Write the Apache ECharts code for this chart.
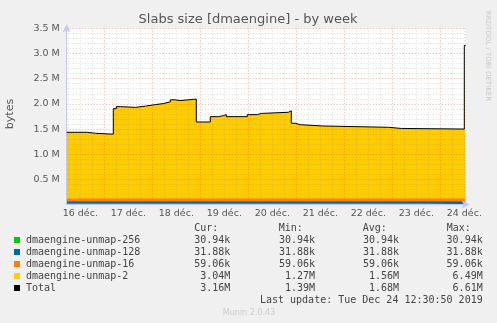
<!DOCTYPE html>
<html><head><meta charset="utf-8">
<script src="https://cdn.jsdelivr.net/npm/echarts@6/dist/echarts.min.js"></script>
<style>html,body{margin:0;padding:0;background:#f0f0f0}#c{width:497px;height:323px}</style>
</head><body><div id="c"></div>
<script>
// ---- data ----
const dayLabels = ['16 déc.', '17 déc.', '18 déc.', '19 déc.', '20 déc.', '21 déc.', '22 déc.', '23 déc.', '24 déc.'];
// hours since 16 déc. 00:00 (value holds from this hour until the next one)
const hours = [5.2, 15.5, 19.5, 28.5, 30, 32, 39.5, 44.5, 49.5, 53.5, 57, 59.5, 62, 70, 77, 81, 83.5, 85, 95.5, 100.5, 102.5, 116, 117.5, 119.5, 122, 133, 166, 172.5, 204, 204.7];
// values in M bytes
const unmap2 = [1.314, 1.294, 1.276, 1.783, 1.823, 1.808, 1.833, 1.863, 1.883, 1.918, 1.958, 1.943, 1.973, 1.518, 1.624, 1.644, 1.664, 1.624, 1.664, 1.688, 1.711, 1.740, 1.493, 1.465, 1.439, 1.413, 1.390, 1.378, 3.038, 3.038];
const total = [1.436, 1.416, 1.398, 1.905, 1.945, 1.930, 1.955, 1.985, 2.005, 2.040, 2.080, 2.065, 2.095, 1.640, 1.746, 1.766, 1.786, 1.746, 1.786, 1.810, 1.833, 1.862, 1.615, 1.587, 1.561, 1.535, 1.512, 1.500, 3.160, 3.160];
const unmap256 = 0.03094;
const unmap128 = 0.03188;
const unmap16 = 0.05906;
const seriesNames = ['dmaengine-unmap-256', 'dmaengine-unmap-128', 'dmaengine-unmap-16', 'dmaengine-unmap-2', 'Total'];
const seriesColors = ['#00cc00', '#0066b3', '#ff8000', '#ffcc00', '#000000'];
const curVals = ['30.94k', '31.88k', '59.06k', '3.04M', '3.16M'];
const minVals = ['30.94k', '31.88k', '59.06k', '1.27M', '1.39M'];
const avgVals = ['30.94k', '31.88k', '59.06k', '1.56M', '1.68M'];
const maxVals = ['30.94k', '31.88k', '59.06k', '6.49M', '6.61M'];
const yMin = 0, yMax = 3.5, yStep = 0.1;
const xMin = 5.2, xMax = 204.7, xGridMin = 6, xStep = 6;

// ---- layout ----
const plotL = 66.7, plotR = 465.7, plotT = 28.3, plotB = 204.6;
const W = 497, H = 323;
const major = 'rgba(230,70,70,0.45)';
const minor = 'rgba(140,140,140,0.32)';
const axisCol = '#c4c8ec';
const FONT = 'DejaVu Sans';
const MONO = 'DejaVu Sans Mono';

const chart = echarts.init(document.getElementById('c'), null, {renderer: 'canvas'});

// stacked tops (areas drawn from the top layer down so lower layers cover upper ones)
const layers = [
  hours.map(() => unmap256),
  hours.map(() => unmap128),
  hours.map(() => unmap16),
  unmap2
];
const stackTops = [];
let running = hours.map(() => 0);
layers.forEach(l => { running = running.map((r, i) => r + l[i]); stackTops.push(running); });

function areaSeries(k) {
  return {
    name: seriesNames[k], type: 'line', step: 'end', symbol: 'none', silent: true,
    data: hours.map((h, i) => [h, stackTops[k][i]]),
    lineStyle: {width: 0}, areaStyle: {color: seriesColors[k], opacity: 1, origin: 'start'},
    xAxisIndex: 0, yAxisIndex: 0, z: 2
  };
}

const gridPxPerH = (plotR - plotL) / (xMax - xMin);
const grid1Left = plotL + (xGridMin - xMin) * gridPxPerH;

const graphics = [];
graphics.push({type: 'text', x: 248, y: 19.5, style: {text: 'Slabs size [dmaengine] - by week', font: '13px ' + FONT, fill: '#555', align: 'center', verticalAlign: 'middle'}});
graphics.push({type: 'text', x: 10, y: 114, rotation: Math.PI / 2, style: {text: 'bytes', font: '11px ' + FONT, fill: '#555', align: 'center', verticalAlign: 'middle'}});
graphics.push({type: 'text', x: 487.5, y: 56, rotation: -Math.PI / 2, style: {text: 'RRDTOOL / TOBI OETIKER', font: '7px ' + FONT, fill: '#c8c8c8', align: 'center', verticalAlign: 'middle'}});
const headers = ['Cur:', 'Min:', 'Avg:', 'Max:'];
const headX = [194.3, 278.7, 362.7, 446.7];
const valRight = [230.3, 315, 399, 482.7];
headers.forEach((t, j) => graphics.push({type: 'text', x: headX[j], y: 228, style: {text: t, font: '10px ' + MONO, fill: '#444', align: 'left', verticalAlign: 'middle'}}));
const rowY = [240, 252, 264, 276, 288];
seriesNames.forEach((n, i) => {
  graphics.push({type: 'rect', shape: {x: 14, y: rowY[i] - 3, width: 6, height: 6}, style: {fill: seriesColors[i]}});
  graphics.push({type: 'text', x: 26, y: rowY[i], style: {text: n, font: '10px ' + MONO, fill: '#444', align: 'left', verticalAlign: 'middle'}});
  [curVals, minVals, avgVals, maxVals].forEach((arr, j) => {
    graphics.push({type: 'text', x: valRight[j], y: rowY[i], style: {text: arr[i], font: '10px ' + MONO, fill: '#444', align: 'right', verticalAlign: 'middle'}});
  });
});
graphics.push({type: 'text', x: 482.7, y: 300, style: {text: 'Last update: Tue Dec 24 12:30:50 2019', font: '10px ' + MONO, fill: '#444', align: 'right', verticalAlign: 'middle'}});
graphics.push({type: 'text', x: 249, y: 312.5, style: {text: 'Munin 2.0.43', font: '8px ' + FONT, fill: '#cccccc', align: 'center', verticalAlign: 'middle'}});

chart.setOption({
  animation: false,
  backgroundColor: '#f0f0f0',
  grid: [
    {left: plotL, right: W - plotR, top: plotT, bottom: H - plotB, show: true, backgroundColor: '#ffffff', borderWidth: 0, containLabel: false},
    {left: grid1Left, right: W - plotR, top: plotT, bottom: H - plotB, show: false, containLabel: false}
  ],
  xAxis: [
    {type: 'value', gridIndex: 0, min: xMin, max: xMax, z: 4,
      axisLine: {show: true, lineStyle: {color: axisCol, width: 1}, symbol: ['none', 'arrow'], symbolSize: [6, 8], symbolOffset: [0, 4]},
      axisTick: {show: false}, axisLabel: {show: false}, splitLine: {show: false}},
    {type: 'value', gridIndex: 1, min: xGridMin, max: xMax, interval: xStep, z: 3,
      axisLine: {show: false}, axisTick: {show: false},
      axisLabel: {show: true, margin: 4, color: '#555', fontFamily: FONT, fontSize: 9.5,
        formatter: v => { const r = Math.round(v); if ((r - 12) % 24 === 0) { const i = (r - 12) / 24; return dayLabels[i] || ''; } return ''; }},
      splitLine: {show: true, lineStyle: {color: [minor, minor, minor, major], width: 1, type: [1, 2]}}}
  ],
  yAxis: [
    {type: 'value', gridIndex: 0, min: yMin, max: yMax, interval: yStep, z: 3,
      axisLine: {show: true, lineStyle: {color: axisCol, width: 1}, symbol: ['none', 'arrow'], symbolSize: [6, 8], symbolOffset: [0, 4]},
      axisTick: {show: false},
      axisLabel: {show: true, margin: 7, color: '#555', fontFamily: FONT, fontSize: 9.5,
        formatter: v => { const t = Math.round(v * 10); return (t > 0 && t % 5 === 0) ? (t / 10).toFixed(1) + ' M' : ''; }},
      splitLine: {show: true, lineStyle: {color: [major, minor, minor, minor, minor], width: 1, type: [1, 2]}}},
    {type: 'value', gridIndex: 1, min: yMin, max: yMax, show: false}
  ],
  series: [
    areaSeries(3),
    areaSeries(2),
    areaSeries(1),
    areaSeries(0),
    {name: 'Total', type: 'line', step: 'end', symbol: 'none', silent: true,
      data: hours.map((h, i) => [h, total[i]]),
      lineStyle: {color: '#000', width: 1}, xAxisIndex: 0, yAxisIndex: 0, z: 5}
  ],
  graphic: graphics
});
</script>
</body></html>
